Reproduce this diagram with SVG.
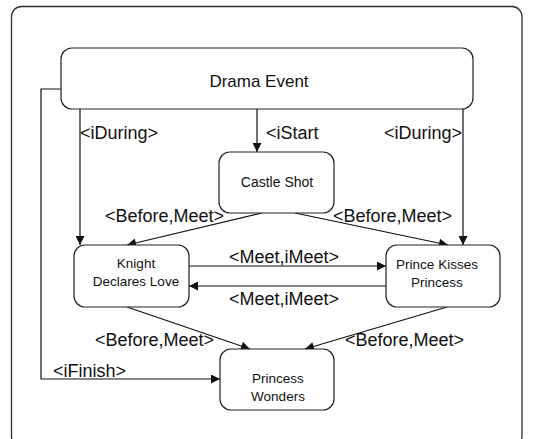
<svg xmlns="http://www.w3.org/2000/svg" width="553" height="439" viewBox="0 0 553 439">
  <style>
    .frame { fill: #ffffff; stroke: #333333; stroke-width: 1.3; }
    .node rect { fill: #ffffff; stroke: #222222; stroke-width: 1.2; }
    .node text { font-family: "Liberation Sans", Arial, sans-serif; fill: #111111; text-anchor: middle; }
    .edge { fill: none; stroke: #111111; stroke-width: 1.2; }
    .lbl { font-family: "Liberation Sans", Arial, sans-serif; font-size: 18px; fill: #111111; }
  </style>
  <defs>
    <marker id="arrow" viewBox="0 0 10 10" refX="10" refY="5" markerWidth="10" markerHeight="9" markerUnits="userSpaceOnUse" orient="auto">
      <path d="M0,0 L10,5 L0,10 Z" fill="#111111"/>
    </marker>
  </defs>

  <!-- outer frame -->
  <rect class="frame" x="11.5" y="6.5" width="510.5" height="440" rx="10"/>

  <!-- connectors -->
  <g id="connectors">
    <path class="edge" d="M61,89 H41 V379 H220" marker-end="url(#arrow)"/>
    <path class="edge" d="M80,109 V245" marker-end="url(#arrow)"/>
    <path class="edge" d="M257,109 V152" marker-end="url(#arrow)"/>
    <path class="edge" d="M463,109 V245" marker-end="url(#arrow)"/>
    <path class="edge" d="M262,213 L127,245" marker-end="url(#arrow)"/>
    <path class="edge" d="M295,213 L448,245" marker-end="url(#arrow)"/>
    <path class="edge" d="M189,266 H386" marker-end="url(#arrow)"/>
    <path class="edge" d="M386,286 H189" marker-end="url(#arrow)"/>
    <path class="edge" d="M127,307 L250,349" marker-end="url(#arrow)"/>
    <path class="edge" d="M447,307 L305,349" marker-end="url(#arrow)"/>

    <text class="lbl" x="80" y="139">&lt;iDuring&gt;</text>
    <text class="lbl" x="266" y="139">&lt;iStart</text>
    <text class="lbl" x="384" y="139">&lt;iDuring&gt;</text>
    <text class="lbl" x="105" y="222">&lt;Before,Meet&gt;</text>
    <text class="lbl" x="333" y="222">&lt;Before,Meet&gt;</text>
    <text class="lbl" x="229" y="263">&lt;Meet,iMeet&gt;</text>
    <text class="lbl" x="229" y="305">&lt;Meet,iMeet&gt;</text>
    <text class="lbl" x="95" y="346">&lt;Before,Meet&gt;</text>
    <text class="lbl" x="345" y="346">&lt;Before,Meet&gt;</text>
    <text class="lbl" x="53" y="377">&lt;iFinish&gt;</text>
  </g>

  <g id="drama-event" class="node">
    <rect x="61" y="48" width="412" height="61" rx="11"/>
    <text x="259" y="87" font-size="17">Drama Event</text>
  </g>

  <g id="castle-shot" class="node">
    <rect x="219" y="152" width="115" height="61" rx="11"/>
    <text x="277" y="187" font-size="14">Castle Shot</text>
  </g>

  <g id="knight-declares-love" class="node">
    <rect x="74" y="245" width="115" height="62" rx="11"/>
    <text x="136" y="268" font-size="13.5">Knight</text>
    <text x="136" y="286" font-size="13.5">Declares Love</text>
  </g>

  <g id="prince-kisses-princess" class="node">
    <rect x="386" y="245" width="114" height="62" rx="11"/>
    <text x="437" y="269" font-size="13.5">Prince Kisses</text>
    <text x="437" y="287" font-size="13.5">Princess</text>
  </g>

  <g id="princess-wonders" class="node">
    <rect x="220" y="349" width="114" height="61" rx="11"/>
    <text x="278" y="383" font-size="13.5">Princess</text>
    <text x="278" y="401" font-size="13.5">Wonders</text>
  </g>
</svg>
